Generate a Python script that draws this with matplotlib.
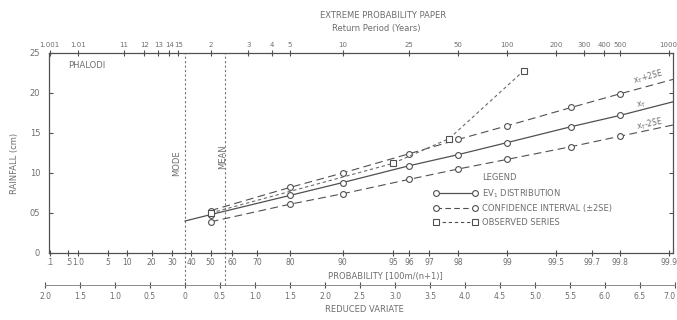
import matplotlib
matplotlib.use("Agg")
import matplotlib.pyplot as plt
from matplotlib.lines import Line2D
import numpy as np

# EV1 (Gumbel) fit, return period in years vs rainfall in cm
ev1_T = [1.582, 2, 5, 10, 25, 50, 100, 250, 500, 1065]
ev1_cm = [4.0, 4.8, 7.2, 8.8, 10.9, 12.3, 13.8, 15.8, 17.2, 18.9]

# confidence band (+/- 2 SE)
ci_T = [2, 5, 10, 25, 50, 100, 250, 500, 1065]
ci_upper = [5.3, 8.2, 10.0, 12.4, 14.2, 15.9, 18.2, 19.9, 21.7]
ci_lower = [3.9, 6.1, 7.4, 9.2, 10.5, 11.7, 13.3, 14.6, 16.0]

# observed series
obs_T = [2, 20, 44, 127]
obs_cm = [5.0, 11.2, 14.3, 22.8]

mode_T = 1.582
mean_T = 2.327

rp_ticks = [1.001, 1.01, 1.1, 1.2, 1.3, 1.4, 1.5, 2, 3, 4, 5, 10, 25, 50,
            100, 200, 300, 400, 500, 1000]
rp_labels = ["1.001", "1.01", "11", "12", "13", "14", "15", "2", "3", "4",
             "5", "10", "25", "50", "100", "200", "300", "400", "500", "1000"]
prob_ticks = [0.1, 0.5, 1, 5, 10, 20, 30, 40, 50, 60, 70, 80, 90, 95, 96, 97,
              98, 99, 99.5, 99.7, 99.8, 99.9]
prob_labels = [".1", ".5", "1.0", "5", "10", "20", "30", "40", "50", "60", "70",
               "80", "90", "95", "96", "97", "98", "99", "99.5", "99.7",
               "99.8", "99.9"]
rv_ticks = [-2.0, -1.5, -1.0, -0.5, 0, 0.5, 1.0, 1.5, 2.0, 2.5, 3.0, 3.5,
            4.0, 4.5, 5.0, 5.5, 6.0, 6.5, 7.0]
rv_labels = ["2.0", "1.5", "1.0", "0.5", "0", "0.5", "1.0", "1.5", "2.0",
             "2.5", "3.0", "3.5", "4.0", "4.5", "5.0", "5.5", "6.0", "6.5",
             "7.0"]
y_ticks = [0, 5, 10, 15, 20, 25]
y_labels = ["0", "05", "10", "15", "20", "25"]

LINE = "#505050"
TEXT = "#6e6e6e"
RV_LO, RV_HI = -1.95, 6.97


# gumbel paper scales
def t_fwd(T):
    T = np.asarray(T, float)
    with np.errstate(all="ignore"):
        return -np.log(-np.log(1 - 1 / T))


def t_inv(y):
    y = np.asarray(y, float)
    with np.errstate(all="ignore"):
        return 1 / (1 - np.exp(-np.exp(-y)))


def p_fwd(p):
    p = np.asarray(p, float)
    with np.errstate(all="ignore"):
        return -np.log(-np.log(p / 100))


def p_inv(y):
    y = np.asarray(y, float)
    return 100 * np.exp(-np.exp(-y))


W, H = 677, 320
fig = plt.figure(figsize=(6.77, 3.2), dpi=100)
ax = fig.add_axes([48.5 / W, 1 - 253 / H, 624.5 / W, 200 / H])
axp = ax.twiny()

ax.set_xscale("function", functions=(t_fwd, t_inv))
ax.set_xlim(t_inv(RV_LO), t_inv(RV_HI))
ax.set_ylim(0, 25)

for s in ax.spines.values():
    s.set_color(LINE)
    s.set_linewidth(0.9)

# return period ticks along the top
ax.set_xticks(rp_ticks)
ax.set_xticklabels(rp_labels)
ax.xaxis.set_minor_locator(plt.NullLocator())
ax.xaxis.set_ticks_position("top")
ax.xaxis.set_label_position("top")
ax.tick_params(axis="x", direction="inout", length=4, pad=1.5, labelsize=5,
               colors=LINE, labelcolor=TEXT)
ax.set_yticks(y_ticks)
ax.set_yticklabels(y_labels)
ax.tick_params(axis="y", left=True, right=True, direction="in", length=3,
               pad=6, labelsize=6, colors=LINE, labelcolor=TEXT)

# probability ticks along the bottom
axp.set_xscale("function", functions=(p_fwd, p_inv))
axp.set_xlim(p_inv(RV_LO), p_inv(RV_HI))
axp.set_xticks(prob_ticks)
axp.set_xticklabels(prob_labels)
axp.xaxis.set_minor_locator(plt.NullLocator())
axp.xaxis.set_ticks_position("bottom")
axp.xaxis.set_label_position("bottom")
axp.tick_params(axis="x", direction="inout", length=4, pad=1.5, labelsize=5.5,
                colors=LINE, labelcolor=TEXT)
for s in axp.spines.values():
    s.set_visible(False)

# reduced variate scale, separate strip underneath
axr = fig.add_axes([45 / W, 1 - 285 / H, 630 / W, 0.0001])
axr.set_xlim(-2.0, 7.0)
axr.set_facecolor("none")
for k in ["left", "right", "top"]:
    axr.spines[k].set_visible(False)
axr.spines["bottom"].set_color("#8a8a8a")
axr.spines["bottom"].set_linewidth(0.7)
axr.set_yticks([])
axr.set_xticks(rv_ticks)
axr.set_xticklabels(rv_labels)
axr.tick_params(axis="x", direction="inout", length=4, pad=3, labelsize=5.5,
                colors=LINE, labelcolor=TEXT)
axr.get_xticklabels()[-1].set_ha("right")

# mode / mean lines
for xv in [mode_T, mean_T]:
    ax.axvline(xv, ymin=-0.16, ymax=1, color="#777777", lw=0.8,
               linestyle=(0, (2, 2)), clip_on=False)
ax.text(0.205, 0.45, "MODE", rotation=90, transform=ax.transAxes, fontsize=6,
        color=TEXT, ha="center", va="center")
ax.text(0.279, 0.48, "MEAN", rotation=90, transform=ax.transAxes, fontsize=6,
        color=TEXT, ha="center", va="center")

mk = dict(marker="o", ms=4.2, mfc="white", mec=LINE, mew=0.8)
ax.plot(ev1_T, ev1_cm, "-", color=LINE, lw=0.9,
        markevery=list(range(1, len(ev1_T) - 1)), **mk)
ax.plot(ci_T, ci_upper, color=LINE, lw=0.8, dashes=(7, 4),
        markevery=list(range(0, len(ci_T) - 1)), **mk)
ax.plot(ci_T, ci_lower, color=LINE, lw=0.8, dashes=(7, 4),
        markevery=list(range(0, len(ci_T) - 1)), **mk)
ax.plot(obs_T, obs_cm, color="#6a6a6a", lw=0.8, dashes=(3, 2.5),
        marker="s", ms=4.2, mfc="white", mec=LINE, mew=0.8)

ax.text(0.031, 0.94, "PHALODI", transform=ax.transAxes, fontsize=6,
        color=TEXT, ha="left", va="center")
ax.text(0.96, 0.83, "x$_T$+2SE", transform=ax.transAxes, fontsize=5.5,
        color=TEXT, ha="center", va="bottom", rotation=15)
ax.text(0.95, 0.71, "x$_T$", transform=ax.transAxes, fontsize=5.5,
        color=TEXT, ha="center", va="bottom", rotation=13)
ax.text(0.963, 0.60, "x$_T$-2SE", transform=ax.transAxes, fontsize=5.5,
        color=TEXT, ha="center", va="bottom", rotation=12)

handles = [
    Line2D([], [], color=LINE, lw=0.9, **mk),
    Line2D([], [], color=LINE, lw=0.8, dashes=(5, 3), **mk),
    Line2D([], [], color=LINE, lw=0.8, dashes=(3, 2.5), marker="s", ms=4.2,
           mfc="white", mec=LINE, mew=0.8),
]
labels = ["EV$_1$ DISTRIBUTION", "CONFIDENCE INTERVAL (\u00b12SE)",
          "OBSERVED SERIES"]
ax.legend(handles, labels, loc="upper left", bbox_to_anchor=(0.616, 0.33),
          frameon=False, fontsize=6, handlelength=5.3, handletextpad=0.6,
          labelspacing=0.55, borderpad=0, borderaxespad=0, numpoints=2,
          labelcolor=TEXT)
ax.text(0.694, 0.38, "LEGEND", transform=ax.transAxes, fontsize=6,
        color=TEXT, ha="left", va="center")

fig.text(383 / W, 1 - 15 / H, "EXTREME PROBABILITY PAPER", fontsize=6,
         color=TEXT, ha="center", va="center")
fig.text(376 / W, 1 - 28 / H, "Return Period (Years)", fontsize=6,
         color=TEXT, ha="center", va="center")
fig.text(385 / W, 1 - 276 / H, "PROBABILITY [100m/(n+1)]", fontsize=6,
         color=TEXT, ha="center", va="center")
fig.text(364 / W, 1 - 310 / H, "REDUCED VARIATE", fontsize=6,
         color=TEXT, ha="center", va="center")
fig.text(15 / W, 1 - 163 / H, "RAINFALL (cm)", fontsize=6, rotation=90,
         color=TEXT, ha="center", va="center")

fig.savefig("out.png", dpi=100)
